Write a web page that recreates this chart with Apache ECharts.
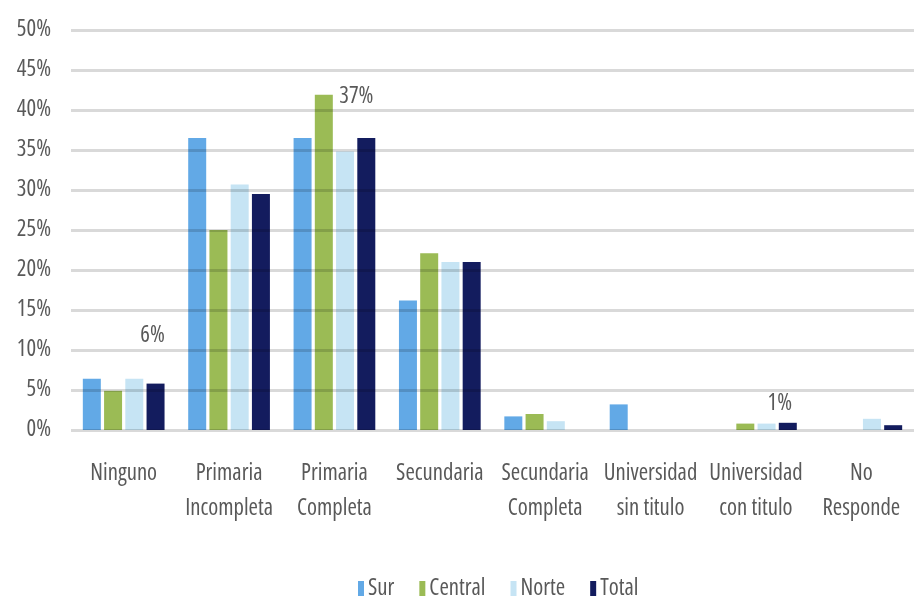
<!DOCTYPE html>
<html>
<head>
<meta charset="utf-8">
<script src="https://cdn.jsdelivr.net/npm/echarts@6/dist/echarts.min.js"></script>
<style>
html,body{margin:0;padding:0;background:#fff;}
#chart{width:916px;height:598px;}
</style>
</head>
<body>
<div id="chart"></div>
<script>
const categories = ['Ninguno', 'Primaria\nIncompleta', 'Primaria\nCompleta', 'Secundaria', 'Secundaria\nCompleta', 'Universidad\nsin titulo', 'Universidad\ncon titulo', 'No\nResponde'];
const seriesNames = ['Sur', 'Central', 'Norte', 'Total'];
const sur = [6.4, 36.5, 36.5, 16.2, 1.7, 3.2, 0, 0];
const central = [4.9, 25.0, 41.9, 22.1, 2.0, 0, 0.8, 0];
const norte = [6.4, 30.7, 34.8, 21.0, 1.1, 0, 0.8, 1.4];
const total = [5.8, 29.5, 36.5, 21.0, 0, 0, 0.9, 0.6];
const labeledTotal = [0, 2, 6];
const yTicks = [0, 5, 10, 15, 20, 25, 30, 35, 40, 45, 50];

// pick the narrowest-looking installed font (reference uses a narrow sans)
function pickFont() {
  const ctx = document.createElement('canvas').getContext('2d');
  const sample = 'Ninguno';
  const probe = 'Ninguno Wmil 50% Responde';
  function w(font, txt) { ctx.font = font; return ctx.measureText(txt).width; }
  const mono = w('100px monospace', probe);
  const serif = w('100px serif', probe);
  const cands = [
    ['', 'Liberation Sans Narrow'], ['', 'Arial Narrow'], ['', 'Roboto Condensed'],
    ['', 'Noto Sans Condensed'], ['', 'Open Sans Condensed'], ['', 'DejaVu Sans Condensed'],
    ['condensed', 'Noto Sans'], ['semi-condensed', 'Noto Sans'], ['extra-condensed', 'Noto Sans'],
    ['condensed', 'Open Sans'], ['semi-condensed', 'Open Sans'],
    ['condensed', 'DejaVu Sans'], ['', 'Roboto'], ['', 'Liberation Sans']
  ];
  const target = 3.05; // em width of "Ninguno" in the reference
  let best = null;
  cands.forEach(([st, fam]) => {
    const pre = st ? st + ' ' : '';
    const a = w(pre + '100px "' + fam + '", monospace', probe);
    const b = w(pre + '100px "' + fam + '", serif', probe);
    if (a === mono && b === serif) return;
    const em = w(pre + '100px "' + fam + '", sans-serif', sample) / 100;
    const score = Math.abs(em - target) + (em < target ? 0.5 * (target - em) : 0);
    if (!best || score < best.score) best = {st: st || 'normal', fam, em, score};
  });
  if (!best) best = {st: 'normal', fam: 'sans-serif', em: 3.7};
  return best;
}
const F = pickFont();
const FONT = '"' + F.fam + '", sans-serif';
const FS = Math.min(23, Math.round(67 / F.em * 10) / 10);
const FSTYLE = F.st;

const TXT = '#595959';
const colors = ['#62A9E6', '#9BBB55', '#C6E4F4', '#131C5E'];
const labelOffsets = {0: [-3, -32], 2: [-10, -25], 6: [-8, -3]};
const txt = {fontFamily: FONT, fontSize: FS, fontStyle: FSTYLE, color: TXT};

const values = [sur, central, norte, total];
const series = values.map((arr, si) => ({
  name: seriesNames[si],
  type: 'bar',
  barWidth: 18,
  barGap: '18%',
  itemStyle: {color: colors[si]},
  data: arr.map((v, i) => {
    if (si === 3 && labeledTotal.indexOf(i) >= 0) {
      return {
        value: v,
        label: Object.assign({
          show: true, position: 'top', offset: labelOffsets[i],
          formatter: p => Math.round(p.value) + '%'
        }, txt)
      };
    }
    return v;
  })
}));

const chart = echarts.init(document.getElementById('chart'), null, {renderer: 'canvas'});
chart.setOption({
  animation: false,
  backgroundColor: '#ffffff',
  color: colors,
  grid: {left: 71, right: 2, top: 30, bottom: 168, containLabel: false},
  legend: {
    top: 572, left: 353,
    itemWidth: 6, itemHeight: 15, itemGap: 25,
    icon: 'rect',
    textStyle: Object.assign({padding: [0, 0, 0, -1]}, txt),
    data: seriesNames
  },
  xAxis: {
    type: 'category',
    data: categories,
    axisLine: {show: false},
    axisTick: {show: false},
    axisLabel: Object.assign({
      interval: 0, hideOverlap: false, margin: 26, lineHeight: 35
    }, txt)
  },
  yAxis: {
    type: 'value',
    min: yTicks[0], max: yTicks[yTicks.length - 1], interval: 5,
    z: 10,
    axisLine: {show: false},
    axisTick: {show: false},
    axisLabel: Object.assign({margin: 20, formatter: '{value}%'}, txt),
    splitLine: {show: true, lineStyle: {color: 'rgba(0,0,0,0.15)', width: 3}}
  },
  series: series
});
</script>
</body>
</html>
